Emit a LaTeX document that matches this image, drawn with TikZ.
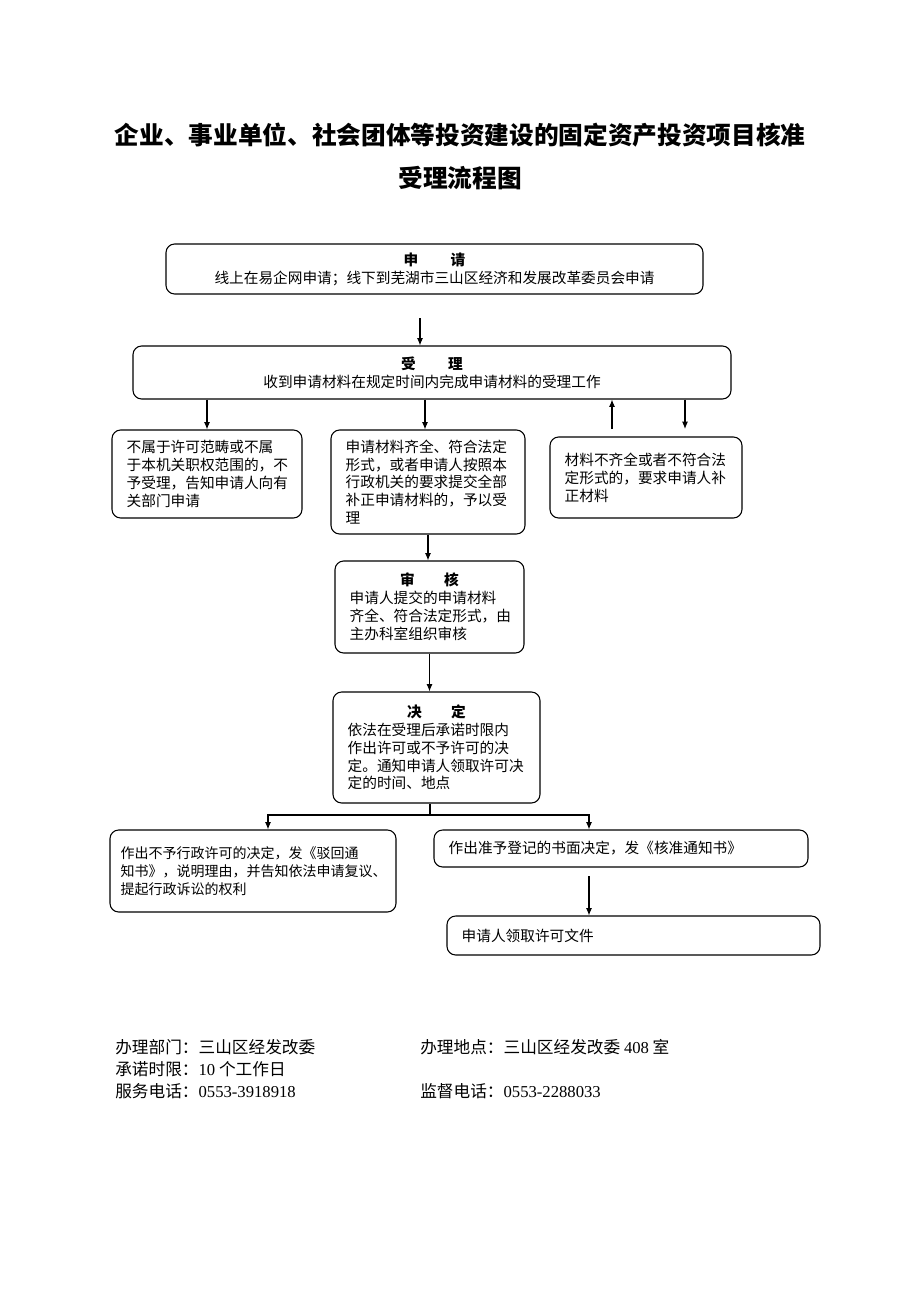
\documentclass[tikz,border=0pt]{standalone}
\usepackage{fontspec}
\setmainfont{Noto Sans CJK SC}
\newfontfamily\latin{Liberation Serif}
\usetikzlibrary{arrows.meta}

\newcommand{\boxfont}{\fontsize{11}{13.4}\selectfont}
\newcommand{\headline}[2]{\makebox[\linewidth]{\bfseries #1\hspace{2em}#2}}

\tikzset{
  box/.style={draw, line width=0.8pt, rounded corners=6.5pt, inner xsep=11pt, inner ysep=0pt, align=left, font=\boxfont},
  headbox/.style={box, align=center},
  arr/.style={line width=0.8pt, -{Latex[length=5.5pt, width=4.5pt]}},
  foot/.style={anchor=west, inner sep=0pt, font=\fontsize{12.5}{15}\selectfont},
}

\begin{document}
\begin{tikzpicture}[x=0.75pt, y=-0.75pt]
\useasboundingbox (0,0) rectangle (920,1302);

% title
\node[font=\fontsize{18.5}{22}\selectfont\bfseries] (title1) at (460,135) {企业、事业单位、社会团体等投资建设的固定资产投资项目核准};
\node[font=\fontsize{18.5}{22}\selectfont\bfseries] (title2) at (460,178) {受理流程图};

% boxes
\node[headbox, text width=380.75pt, minimum height=37.5pt] (apply) at (434.5,269)
  {{\bfseries 申\hspace{2.2em}请}\\线上在易企网申请；线下到芜湖市三山区经济和发展改革委员会申请};
\node[headbox, text width=426.5pt, minimum height=39.75pt] (accept) at (432,372.5)
  {{\bfseries 受\hspace{2.2em}理}\\收到申请材料在规定时间内完成申请材料的受理工作};
\node[box, text width=120.5pt, minimum height=66pt] (reject) at (207,474)
  {不属于许可范畴或不属\\于本机关职权范围的，不\\予受理，告知申请人向有\\关部门申请};
\node[box, text width=123.5pt, minimum height=78pt] (complete) at (428,482)
  {申请材料齐全、符合法定\\形式，或者申请人按照本\\行政机关的要求提交全部\\补正申请材料的，予以受\\理};
\node[box, text width=122pt, minimum height=60.75pt] (supplement) at (646,477.5)
  {材料不齐全或者不符合法\\定形式的，要求申请人补\\正材料};
\node[box, text width=119.75pt, minimum height=69pt] (review) at (429.5,607)
  {\headline{审}{核}\\申请人提交的申请材料\\齐全、符合法定形式，由\\主办科室组织审核};
\node[box, text width=133.25pt, minimum height=83.25pt] (decide) at (436.5,747.5)
  {\headline{决}{定}\\依法在受理后承诺时限内\\作出许可或不予许可的决\\定。通知申请人领取许可决\\定的时间、地点};
\node[box, inner xsep=8pt, text width=198.5pt, minimum height=61.5pt, font=\fontsize{10.5}{13.4}\selectfont] (deny) at (253,871)
  {作出不予行政许可的决定，发《驳回通\\知书》，说明理由，并告知依法申请复议、\\提起行政诉讼的权利};
\node[box, text width=258.5pt, minimum height=27.75pt] (approve) at (621,848.5)
  {作出准予登记的书面决定，发《核准通知书》};
\node[box, text width=257.75pt, minimum height=29.25pt] (collect) at (633.5,935.5)
  {申请人领取许可文件};

% connectors
\coordinate (a1) at (420,318);
\draw[arr] (a1) -- (a1 |- accept.north);
\draw[arr] (reject.north |- accept.south) -- (reject.north);
\coordinate (a2) at (425,400);
\draw[arr] (a2 |- accept.south) -- (a2 |- complete.north);
\coordinate (up) at (612,429);
\draw[arr] (up) -- (up |- accept.south);
\coordinate (down) at (685,429);
\draw[arr] (down |- accept.south) -- (down);
\draw[arr] (complete.south) -- (complete.south |- review.north);
\draw[arr] (review.south) -- (review.south |- decide.north);

\coordinate (split) at (430,815);
\coordinate (sl) at (268,815);
\coordinate (sr) at (589,815);
\draw[line width=0.8pt] (split |- decide.south) -- (split);
\draw[arr] (split) -- (sl) -- (sl |- deny.north);
\draw[arr] (split) -- (sr) -- (sr |- approve.north);
\coordinate (a3) at (589,876);
\draw[arr] (a3) -- (a3 |- collect.north);

% footer
\node[foot] (dept) at (115,1047) {办理部门：三山区经发改委};
\node[foot] (place) at (420,1047) {办理地点：三山区经发改委 {\latin 408} 室};
\node[foot] (limit) at (115,1069) {承诺时限：{\latin 10} 个工作日};
\node[foot] (tel) at (115,1091) {服务电话：{\latin 0553-3918918}};
\node[foot] (supervise) at (420,1091) {监督电话：{\latin 0553-2288033}};

\end{tikzpicture}
\end{document}
